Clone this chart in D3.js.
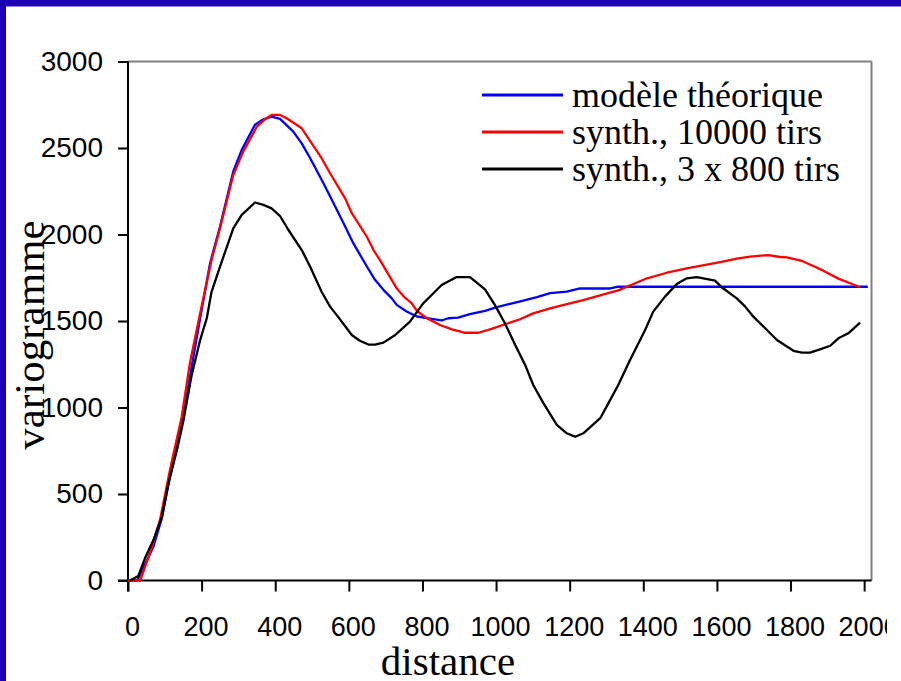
<!DOCTYPE html>
<html>
<head>
<meta charset="utf-8">
<script src="https://cdn.jsdelivr.net/npm/d3@7"></script>
<style>
  html, body { margin: 0; padding: 0; background: #fff; }
  svg { display: block; }
</style>
</head>
<body>
<div id="chart"></div>
<script>
// values
var modeleDist = [0, 25, 69, 92, 114, 150, 173, 196, 223, 250, 286, 309, 345, 368, 390, 413, 449, 472, 495, 531, 554, 590, 612, 649, 671, 694, 716, 730, 757, 785, 812, 852, 870, 897, 929, 970, 1002, 1038, 1074, 1111, 1147, 1192, 1228, 1310, 1332, 2010];
var modeleVal = [0, 0, 195, 360, 600, 947, 1236, 1516, 1834, 2046, 2364, 2489, 2634, 2666, 2681, 2668, 2595, 2527, 2441, 2296, 2200, 2046, 1950, 1815, 1738, 1680, 1632, 1593, 1555, 1526, 1516, 1503, 1516, 1520, 1540, 1559, 1580, 1599, 1618, 1638, 1661, 1670, 1688, 1688, 1698, 1698];

var synthDist = [0, 33, 64, 87, 114, 146, 168, 196, 227, 250, 286, 313, 350, 372, 390, 413, 431, 472, 490, 526, 549, 590, 608, 649, 667, 685, 703, 730, 748, 771, 785, 812, 848, 880, 916, 952, 988, 1024, 1065, 1101, 1147, 1192, 1237, 1292, 1332, 1373, 1410, 1464, 1518, 1554, 1609, 1654, 1690, 1740, 1772, 1790, 1831, 1862, 1889, 1930, 1962, 1989];
var synthVal = [0, 0, 186, 350, 639, 947, 1255, 1545, 1853, 2036, 2344, 2479, 2623, 2666, 2691, 2691, 2672, 2614, 2556, 2441, 2354, 2209, 2123, 1987, 1910, 1850, 1785, 1689, 1644, 1602, 1558, 1516, 1477, 1452, 1432, 1432, 1454, 1481, 1510, 1544, 1573, 1597, 1621, 1654, 1677, 1714, 1747, 1779, 1804, 1818, 1841, 1860, 1872, 1881, 1870, 1868, 1847, 1818, 1791, 1745, 1718, 1695];

var s800Dist = [5, 28, 46, 69, 92, 110, 133, 150, 173, 196, 214, 227, 250, 286, 309, 345, 368, 390, 413, 436, 472, 495, 526, 549, 572, 608, 630, 653, 671, 694, 726, 766, 802, 825, 852, 893, 929, 970, 997, 1024, 1052, 1079, 1101, 1129, 1165, 1192, 1215, 1237, 1283, 1305, 1332, 1364, 1405, 1427, 1459, 1491, 1518, 1545, 1595, 1613, 1654, 1677, 1699, 1736, 1763, 1808, 1831, 1853, 1880, 1908, 1930, 1957, 1989];
var s800Val = [0, 26, 128, 234, 369, 562, 754, 918, 1188, 1390, 1516, 1669, 1814, 2036, 2113, 2185, 2171, 2151, 2107, 2026, 1910, 1814, 1669, 1583, 1521, 1419, 1386, 1364, 1364, 1375, 1419, 1496, 1602, 1650, 1708, 1754, 1754, 1683, 1592, 1487, 1361, 1246, 1130, 1024, 899, 851, 831, 851, 938, 1024, 1130, 1275, 1448, 1554, 1641, 1714, 1747, 1754, 1733, 1695, 1631, 1583, 1525, 1448, 1390, 1328, 1317, 1317, 1336, 1357, 1400, 1429, 1490];

var seriesNames = ['modèle théorique', 'synth., 10000 tirs', 'synth., 3 x 800 tirs'];
var seriesColors = ['#0000ff', '#ff0000', '#000000'];
var xTicks = [0, 200, 400, 600, 800, 1000, 1200, 1400, 1600, 1800, 2000];
var yTicks = [0, 500, 1000, 1500, 2000, 2500, 3000];

function zip(xs, ys) {
  return xs.map(function (d, i) { return [d, ys[i]]; });
}
var series = [zip(modeleDist, modeleVal), zip(synthDist, synthVal), zip(s800Dist, s800Val)];

var width = 901, height = 681;
var plotL = 128, plotR = 871.5, plotT = 61.5, plotB = 580.5;

var svg = d3.select('#chart').append('svg')
  .attr('width', width)
  .attr('height', height);

// blue slide border
svg.append('rect').attr('x', 0).attr('y', 0).attr('width', width).attr('height', 6.5).attr('fill', '#1e00b4');
svg.append('rect').attr('x', 0).attr('y', 0).attr('width', 6).attr('height', height).attr('fill', '#1e00b4');

// the last tick label is cut at the right in the original
svg.append('clipPath').attr('id', 'clipR')
  .append('rect').attr('x', 0).attr('y', 0).attr('width', 887).attr('height', height);

var x = d3.scaleLinear().domain([0, 2020]).range([plotL, plotR]);
var y = d3.scaleLinear().domain([0, 3000]).range([plotB, plotT]);

// plot frame (grey top / right)
svg.append('line').attr('x1', plotL).attr('x2', plotR).attr('y1', plotT).attr('y2', plotT)
  .attr('stroke', '#808080').attr('stroke-width', 2);
svg.append('line').attr('x1', plotR).attr('x2', plotR).attr('y1', plotT).attr('y2', plotB)
  .attr('stroke', '#808080').attr('stroke-width', 2);

// y axis
var yAxis = svg.append('g')
  .attr('transform', 'translate(' + plotL + ',0)')
  .call(d3.axisLeft(y).tickValues(yTicks).tickSize(10).tickSizeOuter(0).tickPadding(15).tickFormat(d3.format('d')));
yAxis.select('.domain').remove();
yAxis.selectAll('line').attr('stroke', '#000').attr('stroke-width', 2);
yAxis.selectAll('text')
  .attr('font-family', 'Liberation Sans, Arial, sans-serif')
  .attr('font-size', 28).attr('fill', '#000');

// x axis
var xAxis = svg.append('g')
  .attr('transform', 'translate(0,' + plotB + ')')
  .attr('clip-path', 'url(#clipR)')
  .call(d3.axisBottom(x).tickValues(xTicks).tickSize(11).tickSizeOuter(0).tickPadding(25).tickFormat(d3.format('d')));
xAxis.select('.domain').remove();
xAxis.selectAll('line').attr('stroke', '#000').attr('stroke-width', 2);
xAxis.selectAll('text')
  .attr('x', 4)
  .attr('font-family', 'Liberation Sans, Arial, sans-serif')
  .attr('font-size', 27).attr('fill', '#000');

svg.append('line').attr('x1', plotL).attr('x2', plotL).attr('y1', plotT).attr('y2', plotB + 11)
  .attr('stroke', '#000').attr('stroke-width', 2);
svg.append('line').attr('x1', plotL - 10).attr('x2', plotR).attr('y1', plotB).attr('y2', plotB)
  .attr('stroke', '#000').attr('stroke-width', 2);

// curves
var line = d3.line().x(function (d) { return x(d[0]); }).y(function (d) { return y(d[1]); });
series.forEach(function (s, i) {
  svg.append('path')
    .datum(s)
    .attr('d', line)
    .attr('fill', 'none')
    .attr('stroke', seriesColors[i])
    .attr('stroke-width', 2.3)
    .attr('stroke-linejoin', 'round');
});

// legend
var legend = svg.append('g');
seriesNames.forEach(function (name, i) {
  var ly = 95 + i * 37;
  legend.append('line').attr('x1', 482).attr('x2', 563).attr('y1', ly).attr('y2', ly)
    .attr('stroke', seriesColors[i]).attr('stroke-width', 3.2);
  legend.append('text').attr('x', 572).attr('y', ly + 12)
    .attr('font-family', 'Liberation Serif, Times New Roman, serif')
    .attr('font-size', 36).attr('fill', '#000')
    .text(name);
});

// axis titles
svg.append('text')
  .attr('x', 448).attr('y', 675)
  .attr('text-anchor', 'middle')
  .attr('font-family', 'Liberation Serif, Times New Roman, serif')
  .attr('font-size', 41).attr('fill', '#000')
  .text('distance');

svg.append('text')
  .attr('transform', 'translate(44,335) rotate(-90)')
  .attr('text-anchor', 'middle')
  .attr('font-family', 'Liberation Serif, Times New Roman, serif')
  .attr('font-size', 43).attr('fill', '#000')
  .text('variogramme');
</script>
</body>
</html>
